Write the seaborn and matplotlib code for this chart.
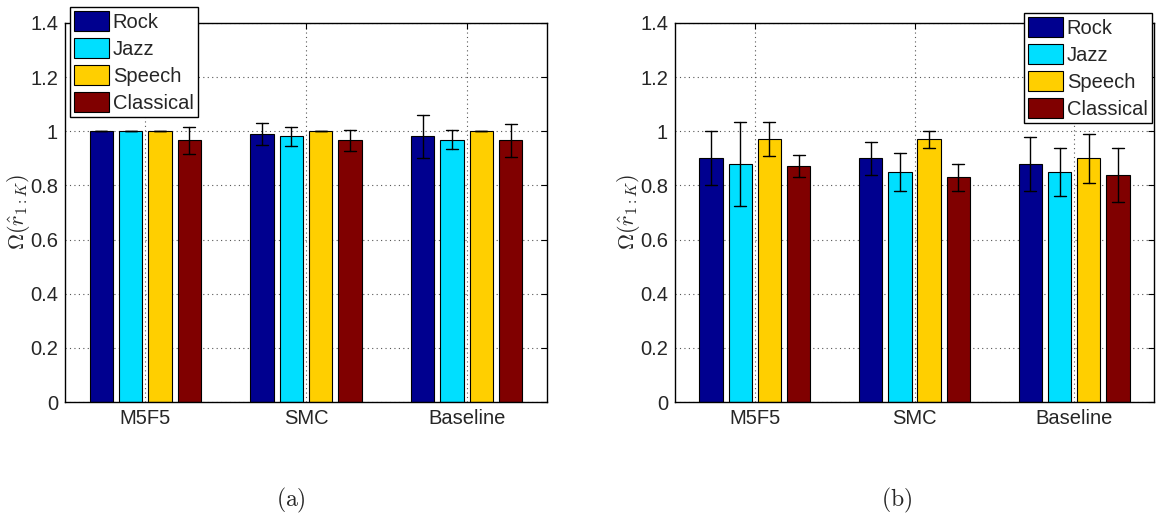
import numpy as np
import pandas as pd
import matplotlib
matplotlib.use("Agg")
import matplotlib.pyplot as plt
import seaborn as sns

# ---- data ----
methods = ["M5F5", "SMC", "Baseline"]
genres = ["Rock", "Jazz", "Speech", "Classical"]

# panel (a): values and errors, ordered [method][genre]
vals_a = [[1.00, 1.00, 1.00, 0.966],
          [0.991, 0.981, 1.00, 0.966],
          [0.981, 0.969, 1.00, 0.966]]
errs_a = [[0.0, 0.0, 0.0, 0.05],
          [0.04, 0.035, 0.0, 0.04],
          [0.08, 0.035, 0.0, 0.06]]

# panel (b)
vals_b = [[0.90, 0.88, 0.972, 0.871],
          [0.90, 0.85, 0.97, 0.83],
          [0.88, 0.85, 0.90, 0.84]]
errs_b = [[0.10, 0.155, 0.063, 0.04],
          [0.06, 0.07, 0.03, 0.05],
          [0.10, 0.09, 0.09, 0.10]]

yticks = [0, 0.2, 0.4, 0.6, 0.8, 1.0, 1.2, 1.4]
ytick_labels = ["0", "0.2", "0.4", "0.6", "0.8", "1", "1.2", "1.4"]
colors = ["#00008F", "#00DFFF", "#FFCF00", "#800000"]
captions = ["(a)", "(b)"]


def make_frame(vals, errs):
    rows = []
    for i, m in enumerate(methods):
        for j, g in enumerate(genres):
            v, e = vals[i][j], errs[i][j]
            rows.append({"method": m, "genre": g, "value": v - e})
            rows.append({"method": m, "genre": g, "value": v + e})
    return pd.DataFrame(rows)


sns.set_style("white")
plt.rcParams["font.family"] = ["Liberation Sans", "DejaVu Sans"]
plt.rcParams["mathtext.fontset"] = "cm"

fig = plt.figure(figsize=(11.56, 5.19), dpi=100)
W, H = 1156, 519
ax_a = fig.add_axes([65 / W, (H - 402) / H, 482 / W, 379 / H])
ax_b = fig.add_axes([675 / W, (H - 402) / H, 479 / W, 379 / H])

panels = [(ax_a, vals_a, errs_a), (ax_b, vals_b, errs_b)]
for k, (ax, vals, errs) in enumerate(panels):
    df = make_frame(vals, errs)
    sns.barplot(data=df, x="method", y="value", hue="genre",
                order=methods, hue_order=genres, palette=colors,
                estimator="mean", errorbar=lambda x: (x.min(), x.max()),
                width=0.73, gap=0.2, capsize=0.3,
                err_kws={"color": "black", "linewidth": 1.0},
                edgecolor="black", linewidth=0.8, saturation=1, ax=ax)
    ax.set_xlim(-0.5, 2.5)
    ax.set_ylim(0, 1.4)
    ax.set_yticks(yticks)
    ax.set_yticklabels(ytick_labels)
    ax.set_xlabel("")
    ax.set_ylabel("")
    ax.set_axisbelow(True)
    ax.grid(True, linestyle=(0, (1, 3)), color="#555555", linewidth=0.8)
    ax.tick_params(axis="both", which="both", direction="in", length=4,
                   top=True, right=True, labelsize=14.5, pad=5, color="black")
    for s in ax.spines.values():
        s.set_visible(True)
        s.set_color("black")
        s.set_linewidth(1.0)

    handles, labels = ax.get_legend_handles_labels()
    if k == 0:
        kw = dict(loc="upper left", bbox_to_anchor=(5 / 482, 1 + 16 / 379))
    else:
        kw = dict(loc="upper right", bbox_to_anchor=(477 / 479, 1 + 10 / 379))
    leg = ax.legend(handles, labels, fontsize=14.5, frameon=True, fancybox=False,
                    borderaxespad=0, borderpad=0.22, handlelength=1.7,
                    handleheight=1.15, handletextpad=0.2, labelspacing=0.3,
                    framealpha=1, **kw)
    leg.get_frame().set_edgecolor("black")
    leg.get_frame().set_linewidth(1.0)
    leg.set_zorder(10)

# y labels
ylab = r"$\Omega(\hat{r}_{1:K})$"
fig.text(18 / W, 1 - 212 / H, ylab, rotation=90, fontsize=16,
         ha="center", va="center")
fig.text(628 / W, 1 - 212 / H, ylab, rotation=90, fontsize=16,
         ha="center", va="center")

# sub captions
fig.text(291 / W, 1 - 500 / H, r"$\mathrm{" + captions[0] + "}$",
         fontsize=17, ha="center", va="center")
fig.text(897 / W, 1 - 500 / H, r"$\mathrm{" + captions[1] + "}$",
         fontsize=17, ha="center", va="center")

fig.savefig("out.png", dpi=100)
